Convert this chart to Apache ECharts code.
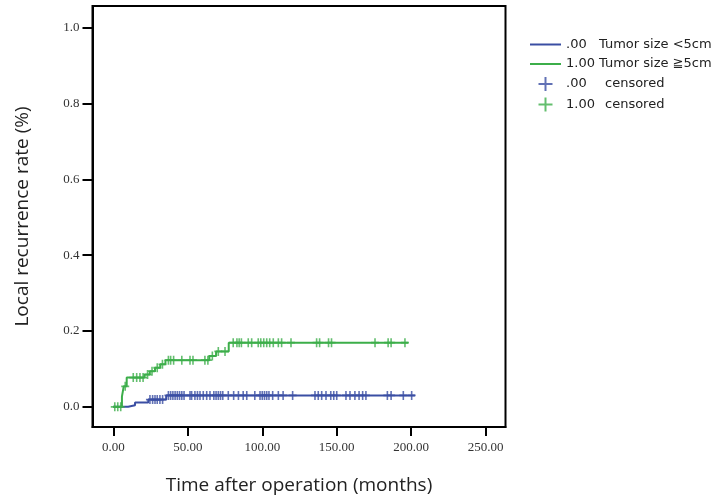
<!DOCTYPE html>
<html><head><meta charset="utf-8">
<script src="https://cdn.jsdelivr.net/npm/echarts@6/dist/echarts.min.js"></script>
<style>html,body{margin:0;padding:0;background:#fff}#c{width:722px;height:500px}</style>
</head><body><div id="c"></div>
<script>
// ---- data ----
var xTicks = [0, 50, 100, 150, 200, 250];
var yTicks = [0, 0.2, 0.4, 0.6, 0.8, 1.0];
// Tumor size <5cm (.00): event step times and cumulative recurrence
var smallT = [0, 10, 14.6, 23.5, 35.5, 202.5];
var smallV = [0, 0.004, 0.011, 0.019, 0.030, 0.030];
// Tumor size >=5cm (1.00)
var largeT = [0, 5.8, 7, 9, 21, 24.5, 28, 31.5, 35, 64.5, 69, 77.5, 198];
var largeV = [0, 0.027, 0.054, 0.077, 0.085, 0.094, 0.103, 0.112, 0.123, 0.134, 0.146, 0.169, 0.169];
// censored times
var smallCens = [24.6, 26.4, 28, 29.5, 31.3, 33.1, 37, 38.5, 40, 41.5, 43, 44.5, 46, 47.5, 51.5, 52.6, 54.8, 56.5, 58.2, 60.4, 62.7, 64.9, 67.5, 69, 70.5, 72, 73.5, 77.2, 80.8, 84, 87.2, 89.6, 95, 98.5, 100, 101.5, 103, 104.5, 107, 110.8, 114, 120.4, 135.4, 137.6, 139.9, 142.8, 146, 148, 150, 156.2, 158.9, 162.2, 165, 167.4, 169.6, 184, 186.5, 194.7, 200.3];
var largeCens = [1, 3, 5, 8, 13.4, 15.7, 17.9, 20, 23, 26, 29.5, 33, 37, 38.5, 40.5, 46, 51.5, 53.5, 61.5, 63.5, 66.5, 70.5, 75, 80.5, 83, 84.5, 86, 90.6, 92.9, 97.3, 99, 101, 103, 105, 107.4, 110.8, 113, 119.3, 136.5, 138.5, 144.5, 146.5, 175.7, 184.5, 186.5, 195.8];
var names = ['.00  Tumor size <5cm', '1.00 Tumor size \u22675cm', '.00   censored', '1.00 censored'];
var blue = '#3a4ea3', green = '#3cae4a';

function levelAt(T, V, t) {
  var v = V[0];
  for (var i = 0; i < T.length; i++) { if (T[i] <= t) v = V[i]; }
  return v;
}
function pairs(T, V) { return T.map(function (t, i) { return [t, V[i]]; }); }
function cens(T, V, C) { return C.map(function (t) { return [t, levelAt(T, V, t)]; }); }

var plus = 'path://M6,0h2v6h6v2h-6v6h-2v-6h-6v-2h6z';
var cross = 'path://M4,0h2v4h4v2h-4v4h-2v-4h-4v-2h4z';
var lineIcon = 'path://M0,0H31V2H0Z';

var chart = echarts.init(document.getElementById('c'), null, {renderer: 'canvas'});
chart.setOption({
  animation: false,
  backgroundColor: '#fff',
  grid: {left: 92.5, top: 6, right: 216.5, bottom: 71, show: true, borderColor: '#000', borderWidth: 2, backgroundColor: '#fff'},
  xAxis: {
    type: 'value', min: -13.96, max: 263.3,
    name: 'Time after operation (months)', nameLocation: 'middle', nameGap: 49,
    nameTextStyle: {fontFamily: 'Open Sans', fontSize: 19, color: '#222'},
    axisLine: {show: true, onZero: false, lineStyle: {color: '#000', width: 2}},
    axisTick: {show: true, length: 9, lineStyle: {color: '#000', width: 2}, customValues: xTicks},
    axisLabel: {margin: 14, fontFamily: 'Liberation Serif', fontSize: 13, color: '#333', customValues: xTicks,
      formatter: function (v) { return v.toFixed(2); }},
    splitLine: {show: false}
  },
  yAxis: {
    type: 'value', min: -0.0533, max: 1.057,
    name: 'Local recurrence rate (%)', nameLocation: 'middle', nameGap: 60, nameRotate: 90,
    nameTextStyle: {fontFamily: 'Open Sans', fontSize: 19, color: '#222'},
    axisLine: {show: true, onZero: false, lineStyle: {color: '#000', width: 2}},
    axisTick: {show: true, length: 10, lineStyle: {color: '#000', width: 2}, customValues: yTicks},
    axisLabel: {margin: 13, fontFamily: 'Liberation Serif', fontSize: 13, color: '#333', customValues: yTicks,
      formatter: function (v) { return v.toFixed(1); }},
    splitLine: {show: false}
  },
  legend: {
    orient: 'vertical', left: 525, top: 33, itemWidth: 31, itemHeight: 14, itemGap: 6.5,
    symbolKeepAspect: true,
    data: [
      {name: names[0], icon: lineIcon},
      {name: names[1], icon: lineIcon},
      {name: names[2], icon: plus},
      {name: names[3], icon: plus}
    ],
    formatter: function (n) {
      var i = names.indexOf(n);
      var parts = [['.00', 'Tumor size <5cm'], ['1.00', 'Tumor size \u22675cm'], ['.00', 'censored'], ['1.00', 'censored']][i];
      return '{a|' + parts[0] + '}{' + (i < 2 ? 'b' : 'c') + '|' + parts[1] + '}';
    },
    textStyle: {
      fontFamily: 'DejaVu Sans', fontSize: 13, color: '#222',
      rich: {
        a: {width: 33, fontFamily: 'DejaVu Sans', fontSize: 13, color: '#222'},
        b: {fontFamily: 'DejaVu Sans', fontSize: 13, color: '#222'},
        c: {padding: [0, 0, 0, 6], fontFamily: 'DejaVu Sans', fontSize: 13, color: '#222'}
      }
    }
  },
  series: [
    {name: names[0], type: 'line', step: 'end', data: pairs(smallT, smallV), showSymbol: false, symbol: 'none',
      color: blue, lineStyle: {color: blue, width: 2}, z: 2},
    {name: names[1], type: 'line', step: 'end', data: pairs(largeT, largeV), showSymbol: false, symbol: 'none',
      color: green, lineStyle: {color: green, width: 2}, z: 3},
    {name: names[2], type: 'scatter', data: cens(smallT, smallV, smallCens), symbol: cross, symbolSize: [8, 9],
      color: blue, itemStyle: {color: blue}, z: 4},
    {name: names[3], type: 'scatter', data: cens(largeT, largeV, largeCens), symbol: cross, symbolSize: [8, 9],
      color: green, itemStyle: {color: green}, z: 5}
  ]
});
</script></body></html>
